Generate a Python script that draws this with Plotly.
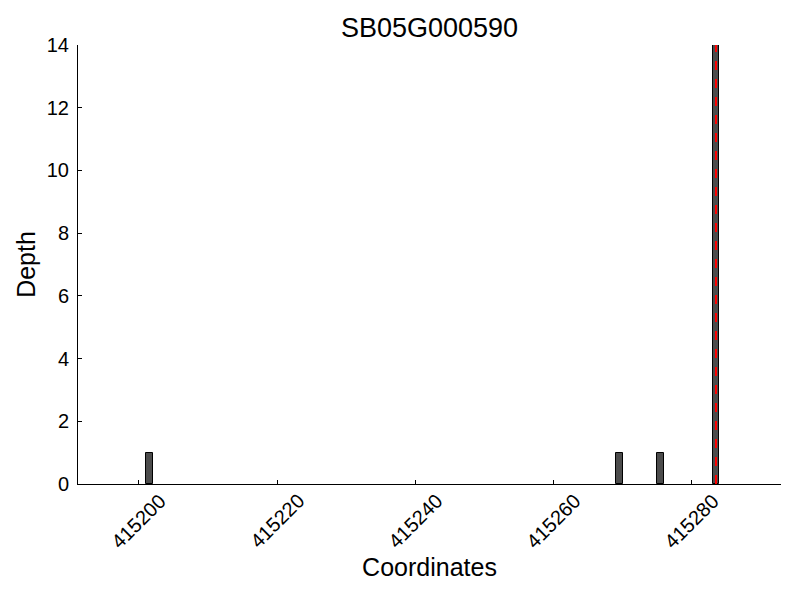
import plotly.graph_objects as go

# Read depth data
positions = [415201, 415269, 415275, 415283]
depths = [1, 1, 1, 14]
marker_pos = 415283.5
title = "SB05G000590"
x_ticks = [415200, 415220, 415240, 415260, 415280]
y_ticks = [0, 2, 4, 6, 8, 10, 12, 14]

fig = go.Figure()

fig.add_trace(go.Bar(
    x=positions,
    y=depths,
    width=1,
    offset=0,
    marker=dict(color="#4c4c4c", line=dict(color="black", width=1)),
    showlegend=False,
))

# Dashed marker line
fig.add_shape(
    type="line", xref="x", yref="paper",
    x0=marker_pos, x1=marker_pos, y0=0, y1=1,
    line=dict(color="red", width=2, dash="dash"),
)

# rotated x tick labels centred on their ticks (matplotlib style)
for t in x_ticks:
    fig.add_annotation(
        x=t, y=0, xref="x", yref="paper",
        text=str(t), textangle=-45, showarrow=False,
        xanchor="center", yanchor="middle", yshift=-37,
        font=dict(size=20, color="black"),
    )

# page body has an 8px margin, so the figure is a bit smaller
fig.update_layout(
    width=792, height=592,
    title=dict(text=title, x=0.5, xref="paper", xanchor="center", y=1 - 20 / 592, yanchor="middle",
               font=dict(size=27, color="black"), automargin=False),
    font=dict(family="Liberation Sans, Arial, sans-serif", color="black", size=20),
    plot_bgcolor="white", paper_bgcolor="white",
    margin=dict(l=70, r=19, t=37, b=116),
    bargap=0,
)

fig.update_xaxes(
    range=[415191.2, 415292.9],
    tickvals=x_ticks,
    showticklabels=False,
    ticks="inside", ticklen=4, tickcolor="black",
    showline=True, linecolor="black", linewidth=1,
    showgrid=False, zeroline=False, automargin=False,
    title=dict(text="Coordinates", font=dict(size=25), standoff=74),
)
fig.update_yaxes(
    range=[0, 14],
    tickvals=y_ticks,
    ticks="inside", ticklen=4, tickcolor="black",
    ticklabelstandoff=4,
    showline=True, linecolor="black", linewidth=1,
    showgrid=False, zeroline=False, automargin=False,
    title=dict(text="Depth", font=dict(size=25), standoff=4),
)

fig.write_html("out.html")
